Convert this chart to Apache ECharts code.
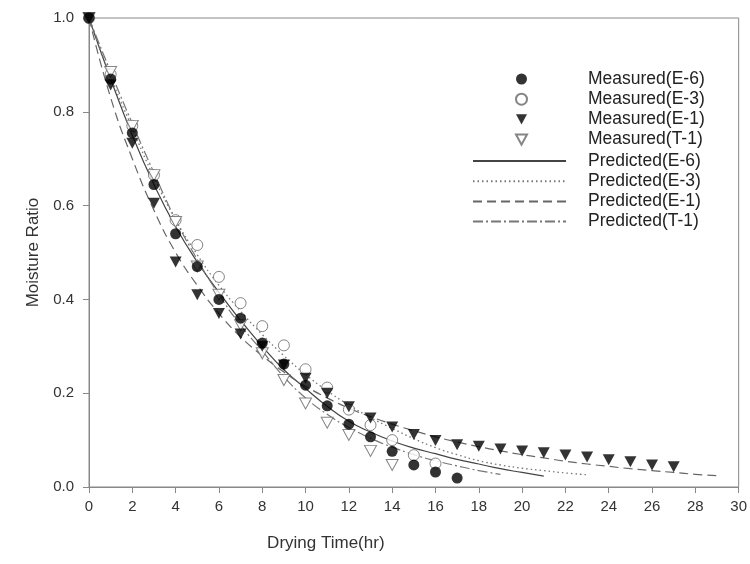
<!DOCTYPE html>
<html>
<head>
<meta charset="utf-8">
<script src="https://cdn.jsdelivr.net/npm/echarts@6/dist/echarts.min.js"></script>
<style>html,body{margin:0;padding:0;background:#fff;}#c{width:750px;height:564px;}</style>
</head>
<body>
<div id="c"></div>
<script>
// Measured data (time in hr, moisture ratio)
const timeE6 = [0,1,2,3,4,5,6,7,8,9,10,11,12,13,14,15,16,17];
const measE6 = [1.0,0.87,0.755,0.645,0.54,0.47,0.40,0.36,0.307,0.262,0.217,0.173,0.134,0.107,0.076,0.047,0.032,0.019];
const timeE3 = [0,1,2,3,4,5,6,7,8,9,10,11,12,13,14,15,16];
const measE3 = [1.0,0.88,0.77,0.665,0.569,0.516,0.448,0.392,0.343,0.302,0.251,0.212,0.165,0.132,0.10,0.068,0.05];
const timeE1 = [0,1,2,3,4,5,6,7,8,9,10,11,12,13,14,15,16,17,18,19,20,21,22,23,24,25,26,27];
const measE1 = [1.0,0.857,0.733,0.605,0.48,0.41,0.37,0.326,0.30,0.26,0.232,0.20,0.171,0.147,0.128,0.112,0.099,0.09,0.087,0.081,0.077,0.073,0.068,0.064,0.058,0.054,0.047,0.043];
const timeT1 = [0,1,2,3,4,5,6,7,8,9,10,11,12,13,14];
const measT1 = [1.0,0.885,0.77,0.665,0.565,0.47,0.41,0.345,0.285,0.228,0.178,0.137,0.111,0.077,0.047];

// Predicted curves
const predTimeE6 = [0,1,2,3,4,5,6,7,8,9,10,11,12,13,14,15,16,17,18,19,20,21];
const predE6 = [1.0,0.87,0.75,0.645,0.555,0.48,0.415,0.355,0.30,0.25,0.21,0.172,0.14,0.117,0.098,0.083,0.071,0.059,0.049,0.039,0.031,0.023];
const predTimeE3 = [0,1,2,3,4,5,6,7,8,9,10,11,12,13,14,15,16,17,18,19,20,21,22,23];
const predE3 = [1.0,0.875,0.765,0.66,0.57,0.495,0.43,0.375,0.325,0.28,0.24,0.205,0.175,0.148,0.125,0.103,0.084,0.069,0.056,0.047,0.04,0.035,0.03,0.026];
const predTimeE1 = [0,1,2,3,4,5,6,7,8,9,10,11,12,13,14,15,16,17,18,19,20,21,22,23,24,25,26,27,28,29];
const predE1 = [1.0,0.83,0.70,0.59,0.50,0.43,0.37,0.32,0.28,0.245,0.215,0.19,0.168,0.15,0.134,0.12,0.107,0.096,0.086,0.077,0.069,0.062,0.055,0.049,0.044,0.039,0.035,0.031,0.027,0.024];
const predTimeT1 = [0,1,2,3,4,5,6,7,8,9,10,11,12,13,14,15,16,17,18,19];
const predT1 = [1.0,0.885,0.775,0.67,0.57,0.485,0.41,0.345,0.29,0.235,0.19,0.155,0.127,0.104,0.085,0.069,0.056,0.045,0.035,0.027];

const xTicks = [0,2,4,6,8,10,12,14,16,18,20,22,24,26,28,30];
const yTicks = [0.0,0.2,0.4,0.6,0.8,1.0];

const measuredNames = ['Measured(E-6)','Measured(E-3)','Measured(E-1)','Measured(T-1)'];
const predictedNames = ['Predicted(E-6)','Predicted(E-3)','Predicted(E-1)','Predicted(T-1)'];

function pairs(xs, ys){ return xs.map((x,i)=>[x, ys[i]]); }

const FONT = "'Liberation Sans', Arial, sans-serif";
const DOWN_TRI = 'path://M0,0 L12,0 L6,11 Z';

const chart = echarts.init(document.getElementById('c'), null, {renderer:'canvas'});
chart.setOption({
  backgroundColor: '#fff',
  animation: false,
  grid: {left: 89, right: 11, top: 18, bottom: 77, show: true, borderColor: '#888', borderWidth: 1, backgroundColor: 'transparent'},
  legend: [
    {
      orient: 'vertical', left: 510, top: 65,
      itemWidth: 11, itemHeight: 11, itemGap: 2.2,
      textStyle: {fontFamily: FONT, fontSize: 17.5, color: '#222', lineHeight: 16, padding: [0,0,0,56]},
      data: measuredNames.map(n => ({name: n}))
    },
    {
      orient: 'vertical', left: 467, top: 147,
      itemWidth: 93, itemHeight: 11, itemGap: 2.2,
      textStyle: {fontFamily: FONT, fontSize: 17.5, color: '#222', lineHeight: 16, padding: [0,0,0,17]},
      data: predictedNames.map(n => ({name: n, itemStyle: {opacity: 0}}))
    }
  ],
  xAxis: {
    type: 'value', min: xTicks[0], max: xTicks[xTicks.length-1], interval: 2,
    name: 'Drying Time(hr)', nameLocation: 'middle', nameGap: 48,
    nameTextStyle: {fontFamily: FONT, fontSize: 17, color: '#333', padding: [0,176,0,0]},
    axisLine: {show: true, onZero: false, lineStyle: {color: '#888', width: 1}},
    axisTick: {show: true, inside: false, length: 6, lineStyle: {color: '#888'}},
    axisLabel: {fontFamily: FONT, fontSize: 15, color: '#333', margin: 12},
    splitLine: {show: false}
  },
  yAxis: {
    type: 'value', min: yTicks[0], max: yTicks[yTicks.length-1], interval: 0.2,
    name: 'Moisture Ratio', nameLocation: 'middle', nameGap: 42,
    nameTextStyle: {fontFamily: FONT, fontSize: 17, color: '#333'},
    axisLine: {show: true, onZero: false, lineStyle: {color: '#888', width: 1}},
    axisTick: {show: true, inside: false, length: 6, lineStyle: {color: '#888'}},
    axisLabel: {fontFamily: FONT, fontSize: 15, color: '#333', margin: 15, formatter: v => v.toFixed(1)},
    splitLine: {show: false}
  },
  series: [
    {name: predictedNames[0], type: 'line', symbol: 'none', smooth: true, data: pairs(predTimeE6, predE6),
     lineStyle: {color: '#444', width: 1.2, type: 'solid'}, itemStyle: {color: '#444'}, z: 2},
    {name: predictedNames[1], type: 'line', symbol: 'none', smooth: true, data: pairs(predTimeE3, predE3),
     lineStyle: {color: '#777', width: 1.3, type: [1.5,3]}, itemStyle: {color: '#777'}, z: 2},
    {name: predictedNames[2], type: 'line', symbol: 'none', smooth: true, data: pairs(predTimeE1, predE1),
     lineStyle: {color: '#666', width: 1.2, type: [9,5]}, itemStyle: {color: '#666'}, z: 2},
    {name: predictedNames[3], type: 'line', symbol: 'none', smooth: true, data: pairs(predTimeT1, predT1),
     lineStyle: {color: '#777', width: 1.2, type: [10,3,2,3]}, itemStyle: {color: '#777'}, z: 2},
    {name: measuredNames[0], type: 'scatter', symbol: 'circle', symbolSize: 11,
     data: pairs(timeE6, measE6), itemStyle: {color: '#000'}, z: 5},
    {name: measuredNames[1], type: 'scatter', symbol: 'circle', symbolSize: 11,
     data: pairs(timeE3, measE3), itemStyle: {color: '#fff', borderColor: '#666', borderWidth: 1}, z: 4},
    {name: measuredNames[2], type: 'scatter', symbol: DOWN_TRI, symbolSize: [12,11],
     data: pairs(timeE1, measE1), itemStyle: {color: '#000'}, z: 5},
    {name: measuredNames[3], type: 'scatter', symbol: DOWN_TRI, symbolSize: [12,11],
     data: pairs(timeT1, measT1), itemStyle: {color: '#fff', borderColor: '#666', borderWidth: 1}, z: 4}
  ]
});
</script>
</body>
</html>
